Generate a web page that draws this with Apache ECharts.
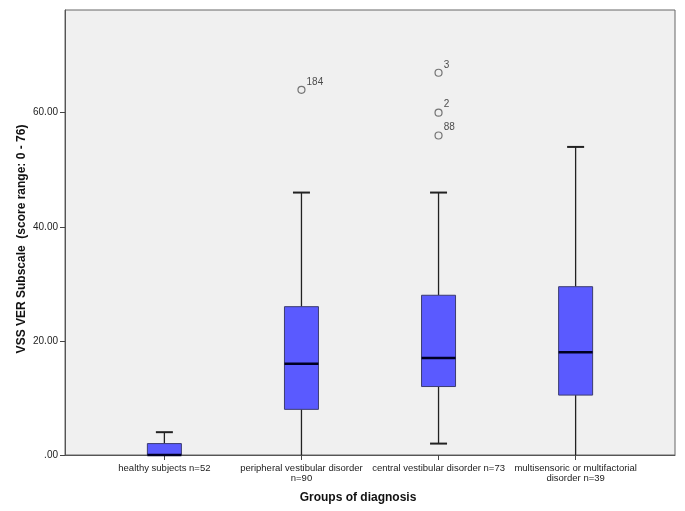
<!DOCTYPE html>
<html>
<head>
<meta charset="utf-8">
<script src="https://cdn.jsdelivr.net/npm/echarts@6/dist/echarts.min.js"></script>
<style>
html,body{margin:0;padding:0;background:#fff;}
#chart{width:685px;height:511px;}
</style>
</head>
<body>
<div id="chart"></div>
<script>
// ---- data ----
const categories = [
  'healthy subjects n=52',
  'peripheral vestibular disorder\nn=90',
  'central vestibular disorder n=73',
  'multisensoric or multifactorial\ndisorder n=39'
];
const whiskerLow = [0, 0, 2, 0];
const quartile1  = [0, 8, 12, 10.5];
const medians    = [0, 16, 17, 18];
const quartile3  = [2, 26, 28, 29.5];
const whiskerHigh = [4, 46, 46, 54];

const outlierGroup = [1, 2, 2, 2];
const outlierValue = [64, 67, 60, 56];
const outlierLabel = ['184', '3', '2', '88'];

const yTicks = [0, 20, 40, 60];
const yMin = 0;
const yMax = 78;

// ---- build ----
const boxData = categories.map((c, i) => [i, whiskerLow[i], quartile1[i], medians[i], quartile3[i], whiskerHigh[i]]);
const outlierData = outlierGroup.map((g, i) => [g, outlierValue[i], outlierLabel[i]]);

const chart = echarts.init(document.getElementById('chart'));
const FONT = '"Liberation Sans", Arial, sans-serif';

function renderBox(params, api) {
  const x = api.value(0);
  const pMin = api.coord([x, api.value(1)]);
  const pQ1 = api.coord([x, api.value(2)]);
  const pMed = api.coord([x, api.value(3)]);
  const pQ3 = api.coord([x, api.value(4)]);
  const pMax = api.coord([x, api.value(5)]);
  const half = 17, cap = 8.5;
  const cx = pMed[0];
  const lineStyle = { stroke: '#222', lineWidth: 1.3 };
  const children = [];
  if (pMin[1] - pQ1[1] > 0.5) {
    children.push({ type: 'line', shape: { x1: cx, y1: pQ1[1], x2: cx, y2: pMin[1] }, style: lineStyle });
  }
  if (api.value(1) > yMin) {
    children.push({ type: 'line', shape: { x1: cx - cap, y1: pMin[1], x2: cx + cap, y2: pMin[1] }, style: { stroke: '#222', lineWidth: 2 } });
  }
  children.push({ type: 'line', shape: { x1: cx, y1: pMax[1], x2: cx, y2: pQ3[1] }, style: lineStyle });
  children.push({ type: 'line', shape: { x1: cx - cap, y1: pMax[1], x2: cx + cap, y2: pMax[1] }, style: { stroke: '#222', lineWidth: 2 } });
  children.push({ type: 'rect', shape: { x: cx - half, y: pQ3[1], width: 2 * half, height: pQ1[1] - pQ3[1] },
    style: { fill: '#5a5aff', stroke: '#3c3c70', lineWidth: 1 } });
  children.push({ type: 'line', shape: { x1: cx - half, y1: pMed[1], x2: cx + half, y2: pMed[1] }, style: { stroke: '#000022', lineWidth: 2.5 } });
  return { type: 'group', children };
}

chart.setOption({
  animation: false,
  backgroundColor: '#ffffff',
  grid: {
    left: 65, right: 10, top: 10, bottom: 56,
    show: true, backgroundColor: '#f0f0f0', borderColor: '#666', borderWidth: 1
  },
  xAxis: {
    type: 'value', min: -0.725, max: 3.725,
    splitLine: { show: false },
    axisLine: { show: true, onZero: false, lineStyle: { color: '#555', width: 1 } },
    axisTick: { show: true, customValues: [0, 1, 2, 3], length: 5, lineStyle: { color: '#444' } },
    axisLabel: {
      customValues: [0, 1, 2, 3], margin: 8,
      formatter: v => categories[Math.round(v)],
      color: '#222', fontSize: 9.5, fontFamily: FONT, lineHeight: 10, align: 'center'
    }
  },
  yAxis: {
    type: 'value', min: yMin, max: yMax, interval: 20,
    splitLine: { show: false },
    axisLine: { show: true, onZero: false, lineStyle: { color: '#555', width: 1 } },
    axisTick: { show: true, length: 5, customValues: yTicks, lineStyle: { color: '#444' } },
    axisLabel: {
      customValues: yTicks, margin: 7,
      formatter: v => v === 0 ? '.00' : v.toFixed(2),
      color: '#222', fontSize: 10, fontFamily: FONT
    }
  },
  series: [
    {
      type: 'custom', data: boxData,
      encode: { x: 0, y: [1, 2, 3, 4, 5] },
      renderItem: renderBox, z: 2
    },
    {
      type: 'scatter', data: outlierData, symbol: 'circle', symbolSize: 7,
      itemStyle: { color: '#f0f0f0', borderColor: '#555', borderWidth: 1.2 },
      label: {
        show: true, position: 'right', distance: 1, offset: [0, -8],
        formatter: p => p.data[2], color: '#222', fontSize: 10, fontFamily: FONT
      },
      z: 3
    }
  ],
  graphic: [
    {
      type: 'text', x: 22, y: 239, rotation: Math.PI / 2,
      style: {
        text: 'VSS VER Subscale  (score range: 0 - 76)',
        font: 'bold 12px ' + FONT, fill: '#111', align: 'center', verticalAlign: 'middle'
      }
    },
    {
      type: 'text', x: 358, y: 498,
      style: {
        text: 'Groups of diagnosis',
        font: 'bold 12px ' + FONT, fill: '#111', align: 'center', verticalAlign: 'middle'
      }
    }
  ]
});
</script>
</body>
</html>
